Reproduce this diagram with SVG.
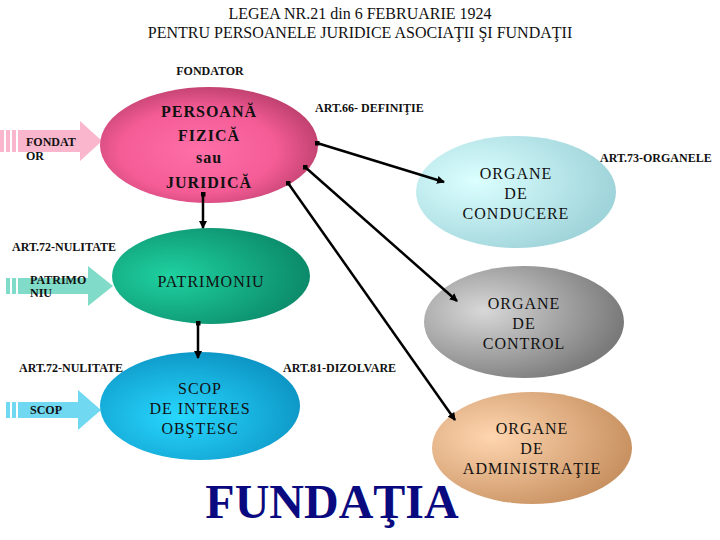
<svg xmlns="http://www.w3.org/2000/svg" width="720" height="540" viewBox="0 0 720 540" font-family="'Liberation Serif','DejaVu Serif',serif">
<style>
text{font-family:"Liberation Serif","DejaVu Serif",serif;fill:#111}
.t{font-size:16px;text-anchor:middle}
.s{font-size:12px;font-weight:bold}
.n{font-size:16px;text-anchor:middle;letter-spacing:1px}
.c line{stroke:#000;stroke-width:2.5}
</style>
<defs>
<radialGradient id="gp" cx="0.45" cy="0.55" r="0.6"><stop offset="0" stop-color="#ff6fa8"/><stop offset="0.6" stop-color="#f45c96"/><stop offset="1" stop-color="#b83d6a"/></radialGradient>
<radialGradient id="gc" cx="0.3" cy="0.4" r="0.7"><stop offset="0" stop-color="#dcffff"/><stop offset="1" stop-color="#9fd4da"/></radialGradient>
<radialGradient id="gg" cx="0.3" cy="0.4" r="0.7"><stop offset="0" stop-color="#d8d8d8"/><stop offset="1" stop-color="#7a7a7a"/></radialGradient>
<radialGradient id="ga" cx="0.3" cy="0.4" r="0.7"><stop offset="0" stop-color="#ffd6b0"/><stop offset="1" stop-color="#c99262"/></radialGradient>
<radialGradient id="gt" cx="0.3" cy="0.5" r="0.7"><stop offset="0" stop-color="#1fd1a0"/><stop offset="1" stop-color="#0b8a6a"/></radialGradient>
<radialGradient id="gb" cx="0.4" cy="0.6" r="0.7"><stop offset="0" stop-color="#28d8ff"/><stop offset="1" stop-color="#0a8fc0"/></radialGradient>
<marker id="ah" markerWidth="8" markerHeight="8" refX="7" refY="4" orient="auto" markerUnits="userSpaceOnUse"><path d="M0,0 L8,4 L0,8 z" fill="#000"/></marker>
<marker id="sq" markerWidth="5" markerHeight="5" refX="2.5" refY="2.5" markerUnits="userSpaceOnUse"><rect width="5" height="5" fill="#000"/></marker>
</defs>
<text x="360" y="19" class="t">LEGEA NR.21 din 6 FEBRUARIE 1924</text>
<text x="360" y="38" class="t">PENTRU PERSOANELE JURIDICE ASOCIAŢII ŞI FUNDAŢII</text>
<text x="210" y="75" class="s" text-anchor="middle">FONDATOR</text>
<g id="arrows">
<path d="M0,130 h4 v22 h-4z M6,130 h4 v22 h-4z M12,130 h4 v22 h-4z" fill="#f9b6cc"/>
<path d="M18,130 h62 v-9 L102,141 L80,161 v-9 h-62z" fill="#f9b6cc"/>
<text x="26" y="146" class="s" font-size="8">FONDAT</text><text x="26" y="160" class="s" font-size="8">OR</text>
<path d="M6,278 h4 v16 h-4z M12,278 h4 v16 h-4z" fill="#80dcc8"/>
<path d="M18,278 h70 v-12 L113,286 L88,306 v-12 h-70z" fill="#80dcc8"/>
<text x="30" y="284" class="s" font-size="8">PATRIMO</text><text x="30" y="297" class="s" font-size="8">NIU</text>
<path d="M6,402 h4 v16 h-4z M12,402 h4 v16 h-4z" fill="#70d8f0"/>
<path d="M18,402 h60 v-12 L101,410 L78,430 v-12 h-60z" fill="#70d8f0"/>
<text x="30" y="414" class="s" font-size="9">SCOP</text>
</g>
<g id="persoana"><ellipse cx="209" cy="145" rx="109" ry="58" fill="url(#gp)"/>
<text x="209" y="117" class="n" font-size="20" font-weight="bold">PERSOANĂ</text><text x="209" y="141" class="n" font-size="20" font-weight="bold">FIZICĂ</text><text x="209" y="163" class="n" font-size="18" font-weight="bold">sau</text><text x="209" y="188" class="n" font-size="20" font-weight="bold">JURIDICĂ</text></g>
<g id="patrimoniu"><ellipse cx="211" cy="276" rx="99" ry="48" fill="url(#gt)"/><text x="211" y="287" class="n">PATRIMONIU</text></g>
<g id="scop"><ellipse cx="200" cy="406" rx="100" ry="54" fill="url(#gb)"/><text x="200" y="394" class="n">SCOP</text><text x="200" y="414" class="n">DE INTERES</text><text x="200" y="434" class="n">OBŞTESC</text></g>
<g id="conducere"><ellipse cx="516" cy="192" rx="100" ry="56" fill="url(#gc)"/><text x="516" y="179" class="n">ORGANE</text><text x="516" y="199" class="n">DE</text><text x="516" y="219" class="n">CONDUCERE</text></g>
<g id="control"><ellipse cx="524" cy="322" rx="100" ry="56" fill="url(#gg)"/><text x="524" y="309" class="n">ORGANE</text><text x="524" y="329" class="n">DE</text><text x="524" y="349" class="n">CONTROL</text></g>
<g id="admin"><ellipse cx="532" cy="448" rx="100" ry="56" fill="url(#ga)"/><text x="532" y="434" class="n">ORGANE</text><text x="532" y="454" class="n">DE</text><text x="532" y="474" class="n">ADMINISTRAŢIE</text></g>
<g class="c" id="connectors">
<line x1="317" y1="143" x2="444" y2="182" marker-start="url(#sq)" marker-end="url(#ah)"/>
<line x1="305" y1="167" x2="457" y2="301" marker-start="url(#sq)" marker-end="url(#ah)"/>
<line x1="288" y1="183" x2="455" y2="420" marker-start="url(#sq)" marker-end="url(#ah)"/>
<line x1="203" y1="194" x2="203" y2="228" stroke-width="2" marker-start="url(#sq)" marker-end="url(#ah)"/>
<line x1="198" y1="323" x2="198" y2="358" stroke-width="2" marker-start="url(#sq)" marker-end="url(#ah)"/>
</g>
<text x="315" y="112" class="s">ART.66- DEFINIŢIE</text>
<text x="600" y="162" class="s">ART.73-ORGANELE</text>
<text x="12" y="251" class="s">ART.72-NULITATE</text>
<text x="19" y="372" class="s">ART.72-NULITATE</text>
<text x="283" y="372" class="s">ART.81-DIZOLVARE</text>
<text x="332" y="518" font-size="48" font-weight="bold" text-anchor="middle" style="fill:#0a0a80">FUNDAŢIA</text>
</svg>
